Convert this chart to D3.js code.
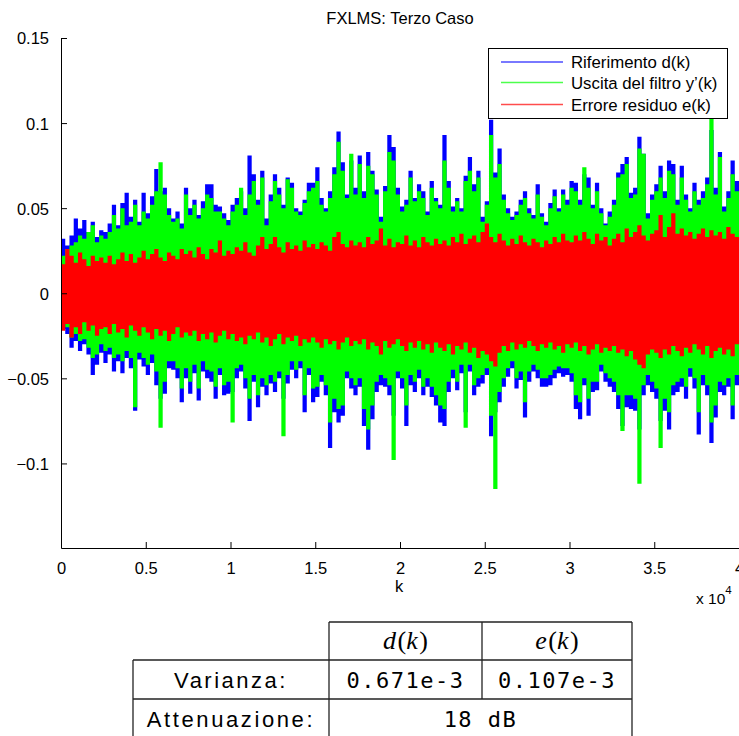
<!DOCTYPE html>
<html>
<head>
<meta charset="utf-8">
<script src="https://cdn.jsdelivr.net/npm/d3@7"></script>
<style>
  html, body { margin: 0; padding: 0; background: #fff; }
  svg { display: block; }
  text { font-family: "Liberation Sans", Arial, Helvetica, sans-serif; fill: #000; }
</style>
</head>
<body>
<svg id="chart" width="739" height="736"></svg>
<script>
// Signal envelopes, one value per block of 250 samples (40000 samples total).
// Values are in units of 1e-3; "Hi" = block maximum, "Lo" = block minimum.
const SAMPLES_PER_BLOCK = 250;
const N_SAMPLES = 40000;

// Riferimento d(k)
const dHi = [32,28,34,44,38,43,36,42,33,37, 36,41,52,40,53,59,45,55,42,59,
  47,57,73,60,62,50,44,48,41,62, 50,55,46,54,64,64,52,51,47,43,
  52,56,60,50,81,70,55,72,44,58, 70,62,52,68,65,50,48,55,65,65,
  74,56,50,60,74,95,77,58,78,62, 81,60,83,72,61,45,63,93,86,62,
  51,55,72,56,64,60,48,66,56,52, 93,66,51,56,50,69,80,64,72,45,
  54,102,71,85,58,50,45,48,55,60, 50,46,64,47,42,53,61,50,61,55,
  66,65,55,70,68,52,65,50,41,48, 55,71,76,80,59,62,92,82,47,58,
  64,75,60,78,76,55,75,58,50,65, 55,60,68,96,62,83,51,60,78,66];
const dLo = [-21,-24,-32,-28,-34,-30,-36,-48,-42,-35, -41,-36,-46,-40,-47,-38,-44,-69,-39,-43,
  -48,-41,-54,-62,-59,-44,-45,-50,-64,-50, -59,-47,-63,-46,-50,-52,-62,-48,-60,-59,
  -58,-50,-46,-56,-75,-52,-67,-55,-60,-53, -58,-50,-62,-53,-45,-50,-44,-70,-48,-64,
  -61,-52,-60,-91,-70,-76,-72,-50,-56,-60, -55,-78,-92,-74,-58,-54,-55,-60,-72,-50,
  -56,-78,-54,-58,-50,-60,-55,-61,-66,-76, -78,-58,-50,-57,-47,-70,-46,-60,-55,-53,
  -48,-84,-70,-64,-55,-49,-44,-56,-51,-73, -52,-46,-50,-55,-55,-54,-50,-47,-49,-48,
  -52,-68,-74,-54,-72,-58,-57,-46,-52,-55, -58,-68,-78,-67,-68,-69,-80,-60,-54,-58,
  -62,-75,-69,-80,-60,-58,-55,-62,-49,-56, -83,-54,-60,-88,-73,-58,-60,-55,-74,-54];

// Uscita del filtro y'(k)
const yHi = [22,26,28,30,34,32,36,40,30,34, 32,36,46,38,50,40,42,52,40,48,
  44,52,60,77,58,46,42,44,38,58, 46,52,44,50,58,56,48,48,44,40,
  48,52,62,46,58,66,52,68,40,54, 66,58,50,67,62,48,46,53,60,62,
  66,52,48,56,70,89,72,56,82,58, 76,56,75,70,58,42,60,83,78,58,
  48,52,68,54,60,56,46,62,54,50, 78,62,48,54,48,66,72,60,68,42,
  52,93,68,76,55,47,43,46,52,56, 47,44,58,45,40,50,57,48,58,52,
  62,60,52,74,62,50,60,47,40,45, 52,68,70,76,56,58,85,82,44,55,
  60,68,56,72,70,52,68,55,48,60, 52,56,64,103,58,80,48,56,70,60];
const yLo = [-18,-20,-26,-24,-28,-27,-32,-38,-36,-30, -34,-32,-38,-36,-40,-34,-38,-67,-35,-38,
  -42,-36,-46,-79,-52,-40,-40,-44,-56,-44, -52,-42,-56,-40,-45,-46,-55,-44,-54,-52,
  -76,-44,-42,-50,-62,-48,-60,-50,-54,-48, -52,-46,-84,-48,-40,-45,-40,-60,-44,-56,
  -55,-48,-54,-76,-62,-68,-66,-46,-50,-54, -50,-68,-80,-66,-52,-48,-50,-54,-98,-46,
  -50,-66,-48,-52,-45,-55,-50,-55,-60,-66, -68,-52,-45,-52,-42,-79,-42,-54,-50,-48,
  -44,-72,-115,-58,-50,-44,-40,-50,-46,-64, -46,-42,-45,-50,-50,-48,-45,-43,-44,-44,
  -47,-60,-64,-50,-62,-52,-52,-42,-47,-50, -52,-60,-81,-60,-60,-62,-112,-54,-48,-52,
  -56,-91,-62,-70,-54,-52,-50,-55,-44,-50, -70,-48,-54,-76,-66,-52,-54,-50,-66,-48];

// Errore residuo e(k)
const eHi = [17,26,22,18,24,20,16,22,19,21, 18,22,17,20,24,19,23,18,21,25,
  20,23,26,21,19,24,22,20,26,23, 25,21,27,23,20,26,24,31,22,25,
  23,27,25,30,24,22,28,33,26,29, 33,27,24,30,26,28,25,31,27,29,
  26,30,28,25,33,36,29,27,31,28, 30,27,33,29,31,38,28,32,27,30,
  29,34,28,31,27,33,30,28,32,29, 31,28,33,30,35,29,32,34,30,36,
  41,33,30,35,31,28,32,29,34,30, 28,32,30,27,31,29,33,30,35,31,
  30,34,31,36,32,29,35,31,33,28, 32,35,30,38,33,36,40,34,31,35,
  37,46,33,39,47,35,38,34,36,32, 35,38,33,37,34,36,32,39,35,33];
const eLo = [-22,-18,-26,-20,-24,-17,-22,-19,-25,-21, -20,-24,-18,-23,-21,-26,-19,-22,-25,-20,
  -23,-27,-21,-25,-22,-28,-24,-20,-26,-23, -25,-22,-28,-24,-27,-23,-29,-25,-22,-27,
  -24,-28,-26,-30,-25,-27,-23,-29,-26,-31, -27,-24,-30,-26,-28,-25,-31,-27,-29,-26,
  -29,-32,-27,-30,-28,-33,-29,-26,-31,-28, -30,-27,-33,-29,-31,-36,-28,-32,-30,-27,
  -31,-34,-29,-32,-28,-33,-30,-35,-29,-32, -34,-30,-36,-31,-33,-29,-35,-32,-38,-34,
  -36,-40,-43,-35,-31,-34,-29,-33,-30,-32, -28,-31,-34,-30,-32,-29,-33,-31,-35,-30,
  -32,-29,-34,-31,-36,-33,-30,-35,-32,-34, -31,-35,-33,-37,-34,-39,-42,-44,-36,-33,
  -35,-38,-33,-36,-31,-34,-37,-32,-35,-30, -33,-36,-31,-38,-34,-32,-36,-33,-37,-30];

const seriesNames = ["Riferimento d(k)", "Uscita del filtro y\u2019(k)", "Errore residuo e(k)"];
const seriesColors = ["#0000ff", "#00ff00", "#ff0000"];

const yTicks = [-0.1, -0.05, 0, 0.05, 0.1, 0.15];
const xTicks = [0, 5000, 10000, 15000, 20000, 25000, 30000, 35000, 40000];
const xTickLabels = ["0", "0.5", "1", "1.5", "2", "2.5", "3", "3.5", "4"];

// Summary table
const tableHeader = ["d", "e"];
const varianceValues = ["0.671e-3", "0.107e-3"];
const attenuationText = "18 dB";

const svg = d3.select("#chart");
const margin = { left: 61, right: 739, top: 38, bottom: 548 };

const x = d3.scaleLinear().domain([0, N_SAMPLES]).range([margin.left, margin.right]);
const y = d3.scaleLinear().domain([-0.1497, 0.15]).range([margin.bottom, margin.top]);

// Each block is drawn as a filled column spanning [min, max] of its samples
function blocks(hi, lo) {
  const rows = hi.map((h, i) => ({ k: i * SAMPLES_PER_BLOCK, hi: h / 1000, lo: lo[i] / 1000 }));
  const last = rows[rows.length - 1];
  rows.push({ k: N_SAMPLES, hi: last.hi, lo: last.lo });
  return rows;
}

const area = d3.area()
  .curve(d3.curveStepAfter)
  .x(d => x(d.k))
  .y0(d => y(d.lo))
  .y1(d => y(d.hi));

const plot = svg.append("g");
[[dHi, dLo], [yHi, yLo], [eHi, eLo]].forEach(([hi, lo], si) => {
  plot.append("path")
    .attr("d", area(blocks(hi, lo)))
    .attr("fill", seriesColors[si])
    .attr("stroke", "none");
});

// Axes (MATLAB style: ticks pointing inward, no box)
const yAxis = d3.axisLeft(y).tickValues(yTicks).tickSizeInner(-6).tickSizeOuter(0)
  .tickPadding(12).tickFormat(d => d3.format("")(+d.toFixed(2)).replace("-", "\u2212"));
const gy = svg.append("g").attr("transform", `translate(${margin.left},0)`).call(yAxis);
const xAxis = d3.axisBottom(x).tickValues(xTicks).tickSizeInner(-6).tickSizeOuter(0)
  .tickPadding(14).tickFormat((d, i) => xTickLabels[i]);
const gx = svg.append("g").attr("transform", `translate(0,${margin.bottom})`).call(xAxis);

[gx, gy].forEach(g => {
  g.select(".domain").attr("stroke", "#000").attr("stroke-width", 1);
  g.selectAll(".tick line").attr("stroke", "#000").attr("stroke-width", 1);
  g.selectAll(".tick text").style("font-size", "16.5px")
    .style("font-family", "'Liberation Sans', Arial, sans-serif").attr("fill", "#000");
});
gy.selectAll(".tick text").attr("dy", "0.36em");
gx.selectAll(".tick text").attr("dy", "0.71em");

// Title and axis labels
svg.append("text").attr("x", 400).attr("y", 24).attr("text-anchor", "middle")
  .style("font-size", "16.5px").text("FXLMS: Terzo Caso");
svg.append("text").attr("x", 399).attr("y", 592).attr("text-anchor", "middle")
  .style("font-size", "16.5px").text("k");
const mult = svg.append("text").attr("x", 696).attr("y", 604).style("font-size", "15.5px");
mult.append("tspan").text("x 10");
mult.append("tspan").attr("dy", -10).style("font-size", "11.5px").text("4");

// Legend
const lg = svg.append("g");
lg.append("rect").attr("x", 488.5).attr("y", 48.5).attr("width", 239).attr("height", 70)
  .attr("fill", "#fff").attr("stroke", "#000").attr("stroke-width", 1);
const legendRows = [62, 82.5, 104.5];
seriesNames.forEach((name, i) => {
  lg.append("line").attr("x1", 501).attr("x2", 563)
    .attr("y1", legendRows[i]).attr("y2", legendRows[i])
    .attr("stroke", seriesColors[i]).attr("stroke-width", 1.4).attr("stroke-opacity", 0.7);
  lg.append("text").attr("x", 571).attr("y", legendRows[i] + 6)
    .style("font-size", "16.8px").text(name);
});

// Table under the plot
const tb = svg.append("g");
const colX = [133, 329, 482, 632];
const rowY = [622, 660, 699, 738];
const stroke = "#222";
function hline(x1, x2, yy) {
  tb.append("line").attr("x1", x1).attr("x2", x2).attr("y1", yy).attr("y2", yy)
    .attr("stroke", stroke).attr("stroke-width", 1.3);
}
function vline(xx, y1, y2) {
  tb.append("line").attr("x1", xx).attr("x2", xx).attr("y1", y1).attr("y2", y2)
    .attr("stroke", stroke).attr("stroke-width", 1.3);
}
hline(colX[1], colX[3], rowY[0]);
hline(colX[0], colX[3], rowY[1]);
hline(colX[0], colX[3], rowY[2]);
hline(colX[0], colX[3], rowY[3]);
vline(colX[0], rowY[1], rowY[3]);
vline(colX[1], rowY[0], rowY[3]);
vline(colX[2], rowY[0], rowY[2]);
vline(colX[3], rowY[0], rowY[3]);

// Header cells: math-style d(k), e(k)
tableHeader.forEach((sym, i) => {
  const cx = (colX[i + 1] + colX[i + 2]) / 2;
  const t = tb.append("text").attr("x", cx).attr("y", 649).attr("text-anchor", "middle")
    .style("font-family", "'Liberation Serif', 'DejaVu Serif', serif").style("font-size", "26px");
  t.append("tspan").style("font-style", "italic").text(sym);
  t.append("tspan").attr("dx", 1.5).text("(");
  t.append("tspan").style("font-style", "italic").text("k");
  t.append("tspan").attr("dx", 1.5).text(")");
});

tb.append("text").attr("x", (colX[0] + colX[1]) / 2).attr("y", 688).attr("text-anchor", "middle")
  .style("font-size", "22px").style("letter-spacing", "2.5px").text("Varianza:");
tb.append("text").attr("x", (colX[0] + colX[1]) / 2).attr("y", 727).attr("text-anchor", "middle")
  .style("font-size", "22px").style("letter-spacing", "2.6px").text("Attenuazione:");
varianceValues.forEach((v, i) => {
  tb.append("text").attr("x", (colX[i + 1] + colX[i + 2]) / 2).attr("y", 688)
    .attr("text-anchor", "middle")
    .style("font-family", "'DejaVu Sans Mono', 'Liberation Mono', monospace")
    .style("font-size", "22px").style("letter-spacing", "1.5px").text(v);
});
tb.append("text").attr("x", (colX[1] + colX[3]) / 2).attr("y", 727).attr("text-anchor", "middle")
  .style("font-family", "'DejaVu Sans Mono', 'Liberation Mono', monospace")
  .style("font-size", "22px").style("letter-spacing", "1.5px").text(attenuationText);
</script>
</body>
</html>
